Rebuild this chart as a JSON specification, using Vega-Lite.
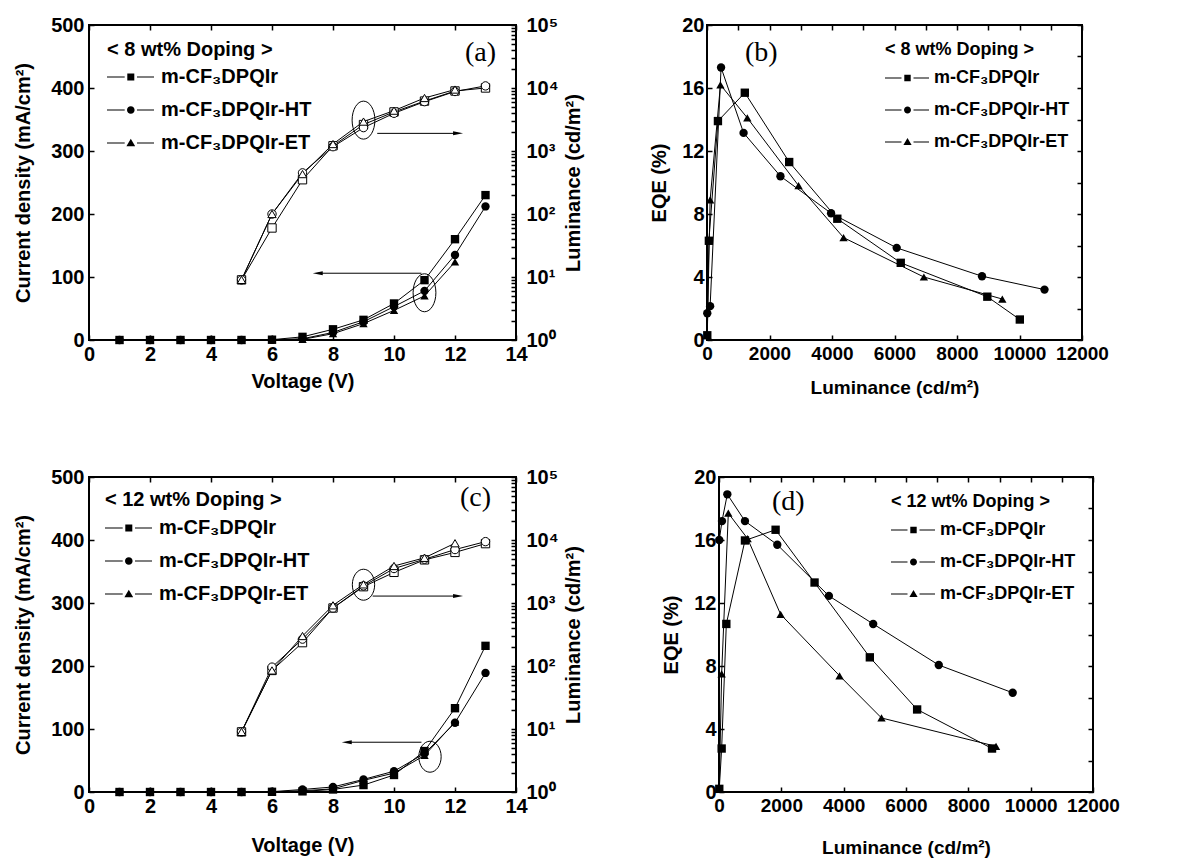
{
  "$schema": "https://vega.github.io/schema/vega-lite/v6.json",
  "padding": {"left": 12, "top": 14, "right": 5, "bottom": 0},
  "spacing": 68,
  "datasets": {
    "d8": [
      {"series": "m-CF3DPQIr", "V": 1, "J": 0, "L": null, "EQE": null},
      {"series": "m-CF3DPQIr", "V": 2, "J": 0, "L": null, "EQE": null},
      {"series": "m-CF3DPQIr", "V": 3, "J": 0, "L": null, "EQE": null},
      {"series": "m-CF3DPQIr", "V": 4, "J": 0, "L": null, "EQE": null},
      {"series": "m-CF3DPQIr", "V": 5, "J": 0, "L": 9, "EQE": 0.3},
      {"series": "m-CF3DPQIr", "V": 6, "J": 0.5, "L": 60, "EQE": 6.3},
      {"series": "m-CF3DPQIr", "V": 7, "J": 5, "L": 350, "EQE": 13.9},
      {"series": "m-CF3DPQIr", "V": 8, "J": 17, "L": 1210, "EQE": 15.7},
      {"series": "m-CF3DPQIr", "V": 9, "J": 32, "L": 2630, "EQE": 11.3},
      {"series": "m-CF3DPQIr", "V": 10, "J": 58, "L": 4170, "EQE": 7.7},
      {"series": "m-CF3DPQIr", "V": 11, "J": 95, "L": 6200, "EQE": 4.9},
      {"series": "m-CF3DPQIr", "V": 12, "J": 160, "L": 8970, "EQE": 2.75},
      {"series": "m-CF3DPQIr", "V": 13, "J": 230, "L": 10010, "EQE": 1.3},
      {"series": "m-CF3DPQIr-HT", "V": 1, "J": 0, "L": null, "EQE": null},
      {"series": "m-CF3DPQIr-HT", "V": 2, "J": 0, "L": null, "EQE": null},
      {"series": "m-CF3DPQIr-HT", "V": 3, "J": 0, "L": null, "EQE": null},
      {"series": "m-CF3DPQIr-HT", "V": 4, "J": 0, "L": null, "EQE": null},
      {"series": "m-CF3DPQIr-HT", "V": 5, "J": 0, "L": 9, "EQE": 1.7},
      {"series": "m-CF3DPQIr-HT", "V": 6, "J": 0.3, "L": 100, "EQE": 2.15},
      {"series": "m-CF3DPQIr-HT", "V": 7, "J": 2, "L": 450, "EQE": 17.3},
      {"series": "m-CF3DPQIr-HT", "V": 8, "J": 12, "L": 1170, "EQE": 13.15},
      {"series": "m-CF3DPQIr-HT", "V": 9, "J": 29, "L": 2350, "EQE": 10.4},
      {"series": "m-CF3DPQIr-HT", "V": 10, "J": 53, "L": 3970, "EQE": 8.05},
      {"series": "m-CF3DPQIr-HT", "V": 11, "J": 78, "L": 6070, "EQE": 5.85},
      {"series": "m-CF3DPQIr-HT", "V": 12, "J": 135, "L": 8800, "EQE": 4.05},
      {"series": "m-CF3DPQIr-HT", "V": 13, "J": 212, "L": 10800, "EQE": 3.2},
      {"series": "m-CF3DPQIr-ET", "V": 1, "J": 0, "L": null, "EQE": null},
      {"series": "m-CF3DPQIr-ET", "V": 2, "J": 0, "L": null, "EQE": null},
      {"series": "m-CF3DPQIr-ET", "V": 3, "J": 0, "L": null, "EQE": null},
      {"series": "m-CF3DPQIr-ET", "V": 4, "J": 0, "L": null, "EQE": null},
      {"series": "m-CF3DPQIr-ET", "V": 5, "J": 0, "L": 9, "EQE": 0.3},
      {"series": "m-CF3DPQIr-ET", "V": 6, "J": 0.2, "L": 100, "EQE": 8.9},
      {"series": "m-CF3DPQIr-ET", "V": 7, "J": 1, "L": 430, "EQE": 16.2},
      {"series": "m-CF3DPQIr-ET", "V": 8, "J": 10, "L": 1290, "EQE": 14.1},
      {"series": "m-CF3DPQIr-ET", "V": 9, "J": 26, "L": 2930, "EQE": 9.8},
      {"series": "m-CF3DPQIr-ET", "V": 10, "J": 47, "L": 4370, "EQE": 6.5},
      {"series": "m-CF3DPQIr-ET", "V": 11, "J": 70, "L": 6940, "EQE": 4.0},
      {"series": "m-CF3DPQIr-ET", "V": 12, "J": 124, "L": 9450, "EQE": 2.6}
    ],
    "d12": [
      {"series": "m-CF3DPQIr", "V": 1, "J": 0, "L": null, "EQE": null},
      {"series": "m-CF3DPQIr", "V": 2, "J": 0, "L": null, "EQE": null},
      {"series": "m-CF3DPQIr", "V": 3, "J": 0, "L": null, "EQE": null},
      {"series": "m-CF3DPQIr", "V": 4, "J": 0, "L": null, "EQE": null},
      {"series": "m-CF3DPQIr", "V": 5, "J": 0, "L": 9, "EQE": 0.2},
      {"series": "m-CF3DPQIr", "V": 6, "J": 0.3, "L": 85, "EQE": 2.76},
      {"series": "m-CF3DPQIr", "V": 7, "J": 1, "L": 235, "EQE": 10.67},
      {"series": "m-CF3DPQIr", "V": 8, "J": 4, "L": 833, "EQE": 15.97},
      {"series": "m-CF3DPQIr", "V": 9, "J": 11, "L": 1816, "EQE": 16.65},
      {"series": "m-CF3DPQIr", "V": 10, "J": 27, "L": 3066, "EQE": 13.3},
      {"series": "m-CF3DPQIr", "V": 11, "J": 65, "L": 4840, "EQE": 8.55},
      {"series": "m-CF3DPQIr", "V": 12, "J": 133, "L": 6357, "EQE": 5.24},
      {"series": "m-CF3DPQIr", "V": 13, "J": 232, "L": 8760, "EQE": 2.76},
      {"series": "m-CF3DPQIr-HT", "V": 1, "J": 0, "L": null, "EQE": null},
      {"series": "m-CF3DPQIr-HT", "V": 2, "J": 0, "L": null, "EQE": null},
      {"series": "m-CF3DPQIr-HT", "V": 3, "J": 0, "L": null, "EQE": null},
      {"series": "m-CF3DPQIr-HT", "V": 4, "J": 0, "L": null, "EQE": null},
      {"series": "m-CF3DPQIr-HT", "V": 5, "J": 0, "L": 9, "EQE": 16.0},
      {"series": "m-CF3DPQIr-HT", "V": 6, "J": 0.5, "L": 96, "EQE": 17.2},
      {"series": "m-CF3DPQIr-HT", "V": 7, "J": 4, "L": 267, "EQE": 18.9},
      {"series": "m-CF3DPQIr-HT", "V": 8, "J": 8, "L": 833, "EQE": 17.2},
      {"series": "m-CF3DPQIr-HT", "V": 9, "J": 20, "L": 1870, "EQE": 15.7},
      {"series": "m-CF3DPQIr-HT", "V": 10, "J": 33, "L": 3526, "EQE": 12.45},
      {"series": "m-CF3DPQIr-HT", "V": 11, "J": 61, "L": 4947, "EQE": 10.67},
      {"series": "m-CF3DPQIr-HT", "V": 12, "J": 110, "L": 7051, "EQE": 8.06},
      {"series": "m-CF3DPQIr-HT", "V": 13, "J": 189, "L": 9423, "EQE": 6.3},
      {"series": "m-CF3DPQIr-ET", "V": 1, "J": 0, "L": null, "EQE": null},
      {"series": "m-CF3DPQIr-ET", "V": 2, "J": 0, "L": null, "EQE": null},
      {"series": "m-CF3DPQIr-ET", "V": 3, "J": 0, "L": null, "EQE": null},
      {"series": "m-CF3DPQIr-ET", "V": 4, "J": 0, "L": null, "EQE": null},
      {"series": "m-CF3DPQIr-ET", "V": 5, "J": 0, "L": 9, "EQE": 0.2},
      {"series": "m-CF3DPQIr-ET", "V": 6, "J": 0.3, "L": 85, "EQE": 7.5},
      {"series": "m-CF3DPQIr-ET", "V": 7, "J": 2, "L": 299, "EQE": 17.7},
      {"series": "m-CF3DPQIr-ET", "V": 8, "J": 5, "L": 919, "EQE": 16.08},
      {"series": "m-CF3DPQIr-ET", "V": 9, "J": 18.5, "L": 1977, "EQE": 11.28},
      {"series": "m-CF3DPQIr-ET", "V": 10, "J": 30, "L": 3868, "EQE": 7.38},
      {"series": "m-CF3DPQIr-ET", "V": 11, "J": 58, "L": 5214, "EQE": 4.7},
      {"series": "m-CF3DPQIr-ET", "V": 12, "J": 111, "L": 8889, "EQE": 2.9}
    ],
    "ell8": [{"V": 9, "J": 349}, {"V": 11, "J": 75}],
    "arr8": [{"V": 9.45, "V2": 12.1, "J": 328}, {"V": 10.9, "V2": 7.5, "J": 106}],
    "ell12": [{"V": 9, "J": 329}, {"V": 11.18, "J": 56}],
    "arr12": [{"V": 9.3, "V2": 12.1, "J": 311}, {"V": 10.9, "V2": 8.45, "J": 79}]
  },
  "vconcat": [
    {
      "spacing": 63,
      "hconcat": [
        {
          "width": 427, "height": 315,
          "title": {"text": "(a)", "anchor": "end", "frame": "group", "font": "Liberation Serif", "fontSize": 28, "fontWeight": "normal", "color": "black", "offset": 0, "baseline": "middle", "dx": -20, "dy": 66},
          "layer": [
            {
              "layer": [
                {
                  "data": {"name": "d8"},
                  "mark": {"type": "line", "color": "black", "strokeWidth": 1},
                  "encoding": {
                    "x": {"field": "V", "type": "quantitative", "title": "Voltage (V)", "scale": {"domain": [0, 14], "nice": false},
                      "axis": {"orient": "bottom", "values": [0,1,2,3,4,5,6,7,8,9,10,11,12,13,14], "format": "d", "labelExpr": "datum.value % 2 === 0 ? datum.label : ''", "labelPadding": 4, "titlePadding": 7}},
                    "y": {"field": "J", "type": "quantitative", "title": "Current density (mA/cm²)", "scale": {"domain": [0, 500], "nice": false},
                      "axis": {"orient": "left", "values": [0,50,100,150,200,250,300,350,400,450,500], "format": "d", "labelExpr": "datum.value % 100 === 0 ? datum.label : ''", "labelPadding": 5, "titlePadding": 17}},
                    "detail": {"field": "series"}
                  }
                },
                {
                  "data": {"name": "d8"},
                  "mark": {"type": "point", "filled": true, "size": 70, "color": "black", "opacity": 1},
                  "encoding": {
                    "x": {"field": "V", "type": "quantitative", "title": "Voltage (V)", "scale": {"domain": [0, 14], "nice": false}},
                    "y": {"field": "J", "type": "quantitative", "title": "Current density (mA/cm²)", "scale": {"domain": [0, 500], "nice": false}},
                    "shape": {"field": "series", "type": "nominal", "legend": null,
                      "scale": {"domain": ["m-CF3DPQIr", "m-CF3DPQIr-HT", "m-CF3DPQIr-ET"], "range": ["square", "circle", "triangle-up"]}}
                  }
                },
                {
                  "data": {"name": "ell8"},
                  "mark": {"type": "point", "shape": "M0,-1A0.6,1 0 1,1 0,1A0.6,1 0 1,1 0,-1Z", "size": 1444, "filled": false, "stroke": "black", "strokeWidth": 1, "opacity": 1},
                  "encoding": {
                    "x": {"field": "V", "type": "quantitative", "title": "Voltage (V)", "scale": {"domain": [0, 14], "nice": false}},
                    "y": {"field": "J", "type": "quantitative", "title": "Current density (mA/cm²)", "scale": {"domain": [0, 500], "nice": false}}
                  }
                },
                {
                  "data": {"name": "arr8"},
                  "mark": {"type": "rule", "color": "black", "strokeWidth": 1},
                  "encoding": {
                    "x": {"field": "V", "type": "quantitative", "title": "Voltage (V)", "scale": {"domain": [0, 14], "nice": false}},
                    "x2": {"field": "V2"},
                    "y": {"field": "J", "type": "quantitative", "title": "Current density (mA/cm²)", "scale": {"domain": [0, 500], "nice": false}}
                  }
                },
                {
                  "data": {"name": "arr8"},
                  "transform": [{"filter": "datum.V2 > datum.V"}],
                  "mark": {"type": "point", "shape": "M1,0L-1,-0.4L-1,0.4Z", "size": 100, "filled": true, "color": "black", "opacity": 1},
                  "encoding": {
                    "x": {"field": "V2", "type": "quantitative", "title": "Voltage (V)", "scale": {"domain": [0, 14], "nice": false}},
                    "y": {"field": "J", "type": "quantitative", "title": "Current density (mA/cm²)", "scale": {"domain": [0, 500], "nice": false}}
                  }
                },
                {
                  "data": {"name": "arr8"},
                  "transform": [{"filter": "datum.V2 < datum.V"}],
                  "mark": {"type": "point", "shape": "M-1,0L1,-0.4L1,0.4Z", "size": 100, "filled": true, "color": "black", "opacity": 1},
                  "encoding": {
                    "x": {"field": "V2", "type": "quantitative", "title": "Voltage (V)", "scale": {"domain": [0, 14], "nice": false}},
                    "y": {"field": "J", "type": "quantitative", "title": "Current density (mA/cm²)", "scale": {"domain": [0, 500], "nice": false}}
                  }
                }
              ]
            },
            {
              "data": {"name": "d8"},
              "transform": [{"filter": "isValid(datum.L)"}],
              "layer": [
                {
                  "mark": {"type": "line", "color": "black", "strokeWidth": 1},
                  "encoding": {
                    "x": {"field": "V", "type": "quantitative", "scale": {"domain": [0, 14], "nice": false},
                      "axis": {"orient": "top", "title": null, "labels": false, "values": [0,1,2,3,4,5,6,7,8,9,10,11,12,13,14]}},
                    "y": {"field": "L", "type": "quantitative", "title": "Luminance (cd/m²)", "scale": {"type": "log", "domain": [1, 100000], "nice": false},
                      "axis": {"orient": "right", "values": [1,2,3,4,5,6,7,8,9,10,20,30,40,50,60,70,80,90,100,200,300,400,500,600,700,800,900,1000,2000,3000,4000,5000,6000,7000,8000,9000,10000,20000,30000,40000,50000,60000,70000,80000,90000,100000],
                        "labelExpr": "datum.value === 1 ? '10⁰' : datum.value === 10 ? '10¹' : datum.value === 100 ? '10²' : datum.value === 1000 ? '10³' : datum.value === 10000 ? '10⁴' : datum.value === 100000 ? '10⁵' : ''",
                        "labelPadding": 10, "titlePadding": 5, "titleAngle": 270, "titleBaseline": "top"}},
                    "detail": {"field": "series"}
                  }
                },
                {
                  "mark": {"type": "point", "filled": true, "fill": "white", "stroke": "black", "strokeWidth": 1, "size": 70, "opacity": 1},
                  "encoding": {
                    "x": {"field": "V", "type": "quantitative", "scale": {"domain": [0, 14], "nice": false}},
                    "y": {"field": "L", "type": "quantitative", "title": "Luminance (cd/m²)", "scale": {"type": "log", "domain": [1, 100000], "nice": false}},
                    "shape": {"field": "series", "type": "nominal", "legend": null, "scale": {"domain": ["m-CF3DPQIr", "m-CF3DPQIr-HT", "m-CF3DPQIr-ET"], "range": ["square", "circle", "triangle-up"]}}
                  }
                }
              ]
            },
            {
              "data": {"name": "d8"},
              "transform": [{"filter": "false"}],
              "mark": {"type": "point", "filled": true, "color": "black", "opacity": 1, "size": 400},
              "encoding": {
                "shape": {"field": "series", "type": "nominal",
                  "scale": {"domain": ["m-CF3DPQIr", "m-CF3DPQIr-HT", "m-CF3DPQIr-ET"], "range": [
                    "M-1,-0.06H0.77V0.06H-1ZM2,-0.06H3.7V0.06H2ZM1.03,-0.35H1.73V0.35H1.03Z",
                    "M-1,-0.06H0.77V0.06H-1ZM2,-0.06H3.7V0.06H2ZM1.0,0A0.38,0.38 0 1,0 1.76,0A0.38,0.38 0 1,0 1.0,0Z",
                    "M-1,-0.06H0.77V0.06H-1ZM2,-0.06H3.7V0.06H2ZM1.38,-0.42L1.82,0.32L0.94,0.32Z"]},
                  "legend": {"title": "< 8 wt% Doping >", "orient": "none", "legendX": 18, "legendY": 15,
                    "titleFontSize": 20, "titlePadding": 7, "labelFontSize": 20, "labelOffset": 34,
                    "labelExpr": "replace(datum.label, 'CF3', 'CF₃')"}
                }
              }
            }
          ],
          "resolve": {"scale": {"x": "independent", "y": "independent", "shape": "independent"}, "axis": {"x": "independent", "y": "independent"}, "legend": {"shape": "independent"}}
        },
        {
          "width": 375, "height": 315,
          "title": {"text": "(b)", "anchor": "start", "frame": "group", "font": "Liberation Serif", "fontSize": 28, "fontWeight": "normal", "color": "black", "offset": 0, "baseline": "middle", "dx": 38, "dy": 66},
          "layer": [
            {
              "data": {"name": "d8"},
              "layer": [
                {
                  "mark": {"type": "line", "color": "black", "strokeWidth": 1},
                  "encoding": {
                    "x": {"field": "L", "type": "quantitative", "title": "Luminance (cd/m²)", "scale": {"domain": [0, 12000], "nice": false},
                      "axis": {"orient": "bottom", "values": [0,1000,2000,3000,4000,5000,6000,7000,8000,9000,10000,11000,12000], "format": "d", "labelExpr": "datum.value % 2000 === 0 ? datum.label : ''", "labelPadding": 4, "titlePadding": 15, "labelFontSize": 19, "titleFontSize": 19}},
                    "y": {"field": "EQE", "type": "quantitative", "title": "EQE (%)", "scale": {"domain": [0, 20], "nice": false},
                      "axis": {"orient": "left", "values": [0,2,4,6,8,10,12,14,16,18,20], "format": "d", "labelExpr": "datum.value % 4 === 0 ? datum.label : ''", "labelPadding": 3, "titlePadding": 12}},
                    "detail": {"field": "series"}
                  }
                },
                {
                  "mark": {"type": "point", "filled": true, "size": 70, "color": "black", "opacity": 1},
                  "encoding": {
                    "x": {"field": "L", "type": "quantitative", "title": "Luminance (cd/m²)", "scale": {"domain": [0, 12000], "nice": false}},
                    "y": {"field": "EQE", "type": "quantitative", "title": "EQE (%)", "scale": {"domain": [0, 20], "nice": false}},
                    "shape": {"field": "series", "type": "nominal", "legend": null,
                      "scale": {"domain": ["m-CF3DPQIr", "m-CF3DPQIr-HT", "m-CF3DPQIr-ET"], "range": ["square", "circle", "triangle-up"]}}
                  }
                }
              ]
            },
            {
              "data": {"name": "d8"},
              "mark": {"type": "point", "opacity": 0},
              "encoding": {
                "x": {"field": "L", "type": "quantitative", "scale": {"domain": [0, 12000], "nice": false},
                  "axis": {"orient": "top", "title": null, "labels": false, "values": [0,1000,2000,3000,4000,5000,6000,7000,8000,9000,10000,11000,12000]}},
                "y": {"field": "EQE", "type": "quantitative", "scale": {"domain": [0, 20], "nice": false},
                  "axis": {"orient": "right", "title": null, "labels": false, "values": [0,2,4,6,8,10,12,14,16,18,20]}}
              }
            },
            {
              "data": {"name": "d8"},
              "transform": [{"filter": "false"}],
              "mark": {"type": "point", "filled": true, "color": "black", "opacity": 1, "size": 400},
              "encoding": {
                "shape": {"field": "series", "type": "nominal",
                  "scale": {"domain": ["m-CF3DPQIr", "m-CF3DPQIr-HT", "m-CF3DPQIr-ET"], "range": [
                    "M-1,-0.06H0.65V0.06H-1ZM1.85,-0.06H3.4V0.06H1.85ZM0.93,-0.33H1.57V0.33H0.93Z",
                    "M-1,-0.06H0.65V0.06H-1ZM1.85,-0.06H3.4V0.06H1.85ZM0.9,0A0.35,0.35 0 1,0 1.6,0A0.35,0.35 0 1,0 0.9,0Z",
                    "M-1,-0.06H0.65V0.06H-1ZM1.85,-0.06H3.4V0.06H1.85ZM1.25,-0.4L1.66,0.3L0.84,0.3Z"]},
                  "legend": {"title": "< 8 wt% Doping >", "orient": "none", "legendX": 178, "legendY": 16,
                    "titleFontSize": 18, "titlePadding": 9, "labelFontSize": 18, "labelOffset": 29,
                    "labelExpr": "replace(datum.label, 'CF3', 'CF₃')"}
                }
              }
            }
          ],
          "resolve": {"scale": {"x": "independent", "y": "independent", "shape": "independent"}, "axis": {"x": "independent", "y": "independent"}, "legend": {"shape": "independent"}}
        }
      ],
      "resolve": {"scale": {"x": "independent", "y": "independent", "shape": "independent"}, "legend": {"shape": "independent"}}
    },
    {
      "spacing": 75,
      "hconcat": [
        {
          "width": 427, "height": 315,
          "title": {"text": "(c)", "anchor": "end", "frame": "group", "font": "Liberation Serif", "fontSize": 28, "fontWeight": "normal", "color": "black", "offset": 0, "baseline": "middle", "dx": -25, "dy": 59},
          "layer": [
            {
              "layer": [
                {
                  "data": {"name": "d12"},
                  "mark": {"type": "line", "color": "black", "strokeWidth": 1},
                  "encoding": {
                    "x": {"field": "V", "type": "quantitative", "title": "Voltage (V)", "scale": {"domain": [0, 14], "nice": false},
                      "axis": {"orient": "bottom", "values": [0,1,2,3,4,5,6,7,8,9,10,11,12,13,14], "format": "d", "labelExpr": "datum.value % 2 === 0 ? datum.label : ''", "labelPadding": 4, "titlePadding": 19}},
                    "y": {"field": "J", "type": "quantitative", "title": "Current density (mA/cm²)", "scale": {"domain": [0, 500], "nice": false},
                      "axis": {"orient": "left", "values": [0,50,100,150,200,250,300,350,400,450,500], "format": "d", "labelExpr": "datum.value % 100 === 0 ? datum.label : ''", "labelPadding": 5, "titlePadding": 17}},
                    "detail": {"field": "series"}
                  }
                },
                {
                  "data": {"name": "d12"},
                  "mark": {"type": "point", "filled": true, "size": 70, "color": "black", "opacity": 1},
                  "encoding": {
                    "x": {"field": "V", "type": "quantitative", "title": "Voltage (V)", "scale": {"domain": [0, 14], "nice": false}},
                    "y": {"field": "J", "type": "quantitative", "title": "Current density (mA/cm²)", "scale": {"domain": [0, 500], "nice": false}},
                    "shape": {"field": "series", "type": "nominal", "legend": null,
                      "scale": {"domain": ["m-CF3DPQIr", "m-CF3DPQIr-HT", "m-CF3DPQIr-ET"], "range": ["square", "circle", "triangle-up"]}}
                  }
                },
                {
                  "data": {"name": "ell12"},
                  "mark": {"type": "point", "shape": "M0,-1A0.72,1 0 1,1 0,1A0.72,1 0 1,1 0,-1Z", "size": 961, "filled": false, "stroke": "black", "strokeWidth": 1, "opacity": 1},
                  "encoding": {
                    "x": {"field": "V", "type": "quantitative", "title": "Voltage (V)", "scale": {"domain": [0, 14], "nice": false}},
                    "y": {"field": "J", "type": "quantitative", "title": "Current density (mA/cm²)", "scale": {"domain": [0, 500], "nice": false}}
                  }
                },
                {
                  "data": {"name": "arr12"},
                  "mark": {"type": "rule", "color": "black", "strokeWidth": 1},
                  "encoding": {
                    "x": {"field": "V", "type": "quantitative", "title": "Voltage (V)", "scale": {"domain": [0, 14], "nice": false}},
                    "x2": {"field": "V2"},
                    "y": {"field": "J", "type": "quantitative", "title": "Current density (mA/cm²)", "scale": {"domain": [0, 500], "nice": false}}
                  }
                },
                {
                  "data": {"name": "arr12"},
                  "transform": [{"filter": "datum.V2 > datum.V"}],
                  "mark": {"type": "point", "shape": "M1,0L-1,-0.4L-1,0.4Z", "size": 100, "filled": true, "color": "black", "opacity": 1},
                  "encoding": {
                    "x": {"field": "V2", "type": "quantitative", "title": "Voltage (V)", "scale": {"domain": [0, 14], "nice": false}},
                    "y": {"field": "J", "type": "quantitative", "title": "Current density (mA/cm²)", "scale": {"domain": [0, 500], "nice": false}}
                  }
                },
                {
                  "data": {"name": "arr12"},
                  "transform": [{"filter": "datum.V2 < datum.V"}],
                  "mark": {"type": "point", "shape": "M-1,0L1,-0.4L1,0.4Z", "size": 100, "filled": true, "color": "black", "opacity": 1},
                  "encoding": {
                    "x": {"field": "V2", "type": "quantitative", "title": "Voltage (V)", "scale": {"domain": [0, 14], "nice": false}},
                    "y": {"field": "J", "type": "quantitative", "title": "Current density (mA/cm²)", "scale": {"domain": [0, 500], "nice": false}}
                  }
                }
              ]
            },
            {
              "data": {"name": "d12"},
              "transform": [{"filter": "isValid(datum.L)"}],
              "layer": [
                {
                  "mark": {"type": "line", "color": "black", "strokeWidth": 1},
                  "encoding": {
                    "x": {"field": "V", "type": "quantitative", "scale": {"domain": [0, 14], "nice": false},
                      "axis": {"orient": "top", "title": null, "labels": false, "values": [0,1,2,3,4,5,6,7,8,9,10,11,12,13,14]}},
                    "y": {"field": "L", "type": "quantitative", "title": "Luminance (cd/m²)", "scale": {"type": "log", "domain": [1, 100000], "nice": false},
                      "axis": {"orient": "right", "values": [1,2,3,4,5,6,7,8,9,10,20,30,40,50,60,70,80,90,100,200,300,400,500,600,700,800,900,1000,2000,3000,4000,5000,6000,7000,8000,9000,10000,20000,30000,40000,50000,60000,70000,80000,90000,100000],
                        "labelExpr": "datum.value === 1 ? '10⁰' : datum.value === 10 ? '10¹' : datum.value === 100 ? '10²' : datum.value === 1000 ? '10³' : datum.value === 10000 ? '10⁴' : datum.value === 100000 ? '10⁵' : ''",
                        "labelPadding": 10, "titlePadding": 5, "titleAngle": 270, "titleBaseline": "top"}},
                    "detail": {"field": "series"}
                  }
                },
                {
                  "mark": {"type": "point", "filled": true, "fill": "white", "stroke": "black", "strokeWidth": 1, "size": 70, "opacity": 1},
                  "encoding": {
                    "x": {"field": "V", "type": "quantitative", "scale": {"domain": [0, 14], "nice": false}},
                    "y": {"field": "L", "type": "quantitative", "title": "Luminance (cd/m²)", "scale": {"type": "log", "domain": [1, 100000], "nice": false}},
                    "shape": {"field": "series", "type": "nominal", "legend": null, "scale": {"domain": ["m-CF3DPQIr", "m-CF3DPQIr-HT", "m-CF3DPQIr-ET"], "range": ["square", "circle", "triangle-up"]}}
                  }
                }
              ]
            },
            {
              "data": {"name": "d12"},
              "transform": [{"filter": "false"}],
              "mark": {"type": "point", "filled": true, "color": "black", "opacity": 1, "size": 400},
              "encoding": {
                "shape": {"field": "series", "type": "nominal",
                  "scale": {"domain": ["m-CF3DPQIr", "m-CF3DPQIr-HT", "m-CF3DPQIr-ET"], "range": [
                    "M-1,-0.06H0.77V0.06H-1ZM2,-0.06H3.7V0.06H2ZM1.03,-0.35H1.73V0.35H1.03Z",
                    "M-1,-0.06H0.77V0.06H-1ZM2,-0.06H3.7V0.06H2ZM1.0,0A0.38,0.38 0 1,0 1.76,0A0.38,0.38 0 1,0 1.0,0Z",
                    "M-1,-0.06H0.77V0.06H-1ZM2,-0.06H3.7V0.06H2ZM1.38,-0.42L1.82,0.32L0.94,0.32Z"]},
                  "legend": {"title": "< 12 wt% Doping >", "orient": "none", "legendX": 16, "legendY": 13,
                    "titleFontSize": 20, "titlePadding": 8, "labelFontSize": 20, "labelOffset": 34,
                    "labelExpr": "replace(datum.label, 'CF3', 'CF₃')"}
                }
              }
            }
          ],
          "resolve": {"scale": {"x": "independent", "y": "independent", "shape": "independent"}, "axis": {"x": "independent", "y": "independent"}, "legend": {"shape": "independent"}}
        },
        {
          "width": 374, "height": 315,
          "title": {"text": "(d)", "anchor": "start", "frame": "group", "font": "Liberation Serif", "fontSize": 28, "fontWeight": "normal", "color": "black", "offset": 0, "baseline": "middle", "dx": 53, "dy": 63},
          "layer": [
            {
              "data": {"name": "d12"},
              "layer": [
                {
                  "mark": {"type": "line", "color": "black", "strokeWidth": 1},
                  "encoding": {
                    "x": {"field": "L", "type": "quantitative", "title": "Luminance (cd/m²)", "scale": {"domain": [0, 12000], "nice": false},
                      "axis": {"orient": "bottom", "values": [0,1000,2000,3000,4000,5000,6000,7000,8000,9000,10000,11000,12000], "format": "d", "labelExpr": "datum.value % 2000 === 0 ? datum.label : ''", "labelPadding": 4, "titlePadding": 23, "labelFontSize": 19, "titleFontSize": 19}},
                    "y": {"field": "EQE", "type": "quantitative", "title": "EQE (%)", "scale": {"domain": [0, 20], "nice": false},
                      "axis": {"orient": "left", "values": [0,2,4,6,8,10,12,14,16,18,20], "format": "d", "labelExpr": "datum.value % 4 === 0 ? datum.label : ''", "labelPadding": 3, "titlePadding": 12}},
                    "detail": {"field": "series"}
                  }
                },
                {
                  "mark": {"type": "point", "filled": true, "size": 70, "color": "black", "opacity": 1},
                  "encoding": {
                    "x": {"field": "L", "type": "quantitative", "title": "Luminance (cd/m²)", "scale": {"domain": [0, 12000], "nice": false}},
                    "y": {"field": "EQE", "type": "quantitative", "title": "EQE (%)", "scale": {"domain": [0, 20], "nice": false}},
                    "shape": {"field": "series", "type": "nominal", "legend": null,
                      "scale": {"domain": ["m-CF3DPQIr", "m-CF3DPQIr-HT", "m-CF3DPQIr-ET"], "range": ["square", "circle", "triangle-up"]}}
                  }
                }
              ]
            },
            {
              "data": {"name": "d12"},
              "mark": {"type": "point", "opacity": 0},
              "encoding": {
                "x": {"field": "L", "type": "quantitative", "scale": {"domain": [0, 12000], "nice": false},
                  "axis": {"orient": "top", "title": null, "labels": false, "values": [0,1000,2000,3000,4000,5000,6000,7000,8000,9000,10000,11000,12000]}},
                "y": {"field": "EQE", "type": "quantitative", "scale": {"domain": [0, 20], "nice": false},
                  "axis": {"orient": "right", "title": null, "labels": false, "values": [0,2,4,6,8,10,12,14,16,18,20]}}
              }
            },
            {
              "data": {"name": "d12"},
              "transform": [{"filter": "false"}],
              "mark": {"type": "point", "filled": true, "color": "black", "opacity": 1, "size": 400},
              "encoding": {
                "shape": {"field": "series", "type": "nominal",
                  "scale": {"domain": ["m-CF3DPQIr", "m-CF3DPQIr-HT", "m-CF3DPQIr-ET"], "range": [
                    "M-1,-0.06H0.65V0.06H-1ZM1.85,-0.06H3.4V0.06H1.85ZM0.93,-0.33H1.57V0.33H0.93Z",
                    "M-1,-0.06H0.65V0.06H-1ZM1.85,-0.06H3.4V0.06H1.85ZM0.9,0A0.35,0.35 0 1,0 1.6,0A0.35,0.35 0 1,0 0.9,0Z",
                    "M-1,-0.06H0.65V0.06H-1ZM1.85,-0.06H3.4V0.06H1.85ZM1.25,-0.4L1.66,0.3L0.84,0.3Z"]},
                  "legend": {"title": "< 12 wt% Doping >", "orient": "none", "legendX": 172, "legendY": 16,
                    "titleFontSize": 18, "titlePadding": 9, "labelFontSize": 18, "labelOffset": 29,
                    "labelExpr": "replace(datum.label, 'CF3', 'CF₃')"}
                }
              }
            }
          ],
          "resolve": {"scale": {"x": "independent", "y": "independent", "shape": "independent"}, "axis": {"x": "independent", "y": "independent"}, "legend": {"shape": "independent"}}
        }
      ],
      "resolve": {"scale": {"x": "independent", "y": "independent", "shape": "independent"}, "legend": {"shape": "independent"}}
    }
  ],
  "resolve": {"scale": {"x": "independent", "y": "independent", "shape": "independent"}, "legend": {"shape": "independent"}},
  "config": {
    "font": "Liberation Sans",
    "background": "white",
    "view": {"stroke": "black", "strokeWidth": 2},
    "axis": {
      "labelFont": "Liberation Sans", "labelFontSize": 20, "labelFontWeight": "bold", "labelColor": "black",
      "titleFont": "Liberation Sans", "titleFontSize": 20, "titleFontWeight": "bold", "titleColor": "black",
      "grid": false, "domain": false, "ticks": true, "tickSize": 5, "offset": -5,
      "tickColor": "black", "tickWidth": 1.5, "zindex": 1,
      "labelFlush": false, "labelOverlap": false, "labelBound": false
    },
    "legend": {
      "titleFont": "Liberation Sans", "labelFont": "Liberation Sans", "titleFontWeight": "bold", "labelFontWeight": "bold",
      "titleColor": "black", "labelColor": "black", "padding": 0, "symbolStrokeWidth": 0, "symbolFillColor": "black",
      "symbolSize": 400, "rowPadding": 13, "symbolOpacity": 1, "titleLimit": 400, "labelLimit": 400
    }
  }
}
